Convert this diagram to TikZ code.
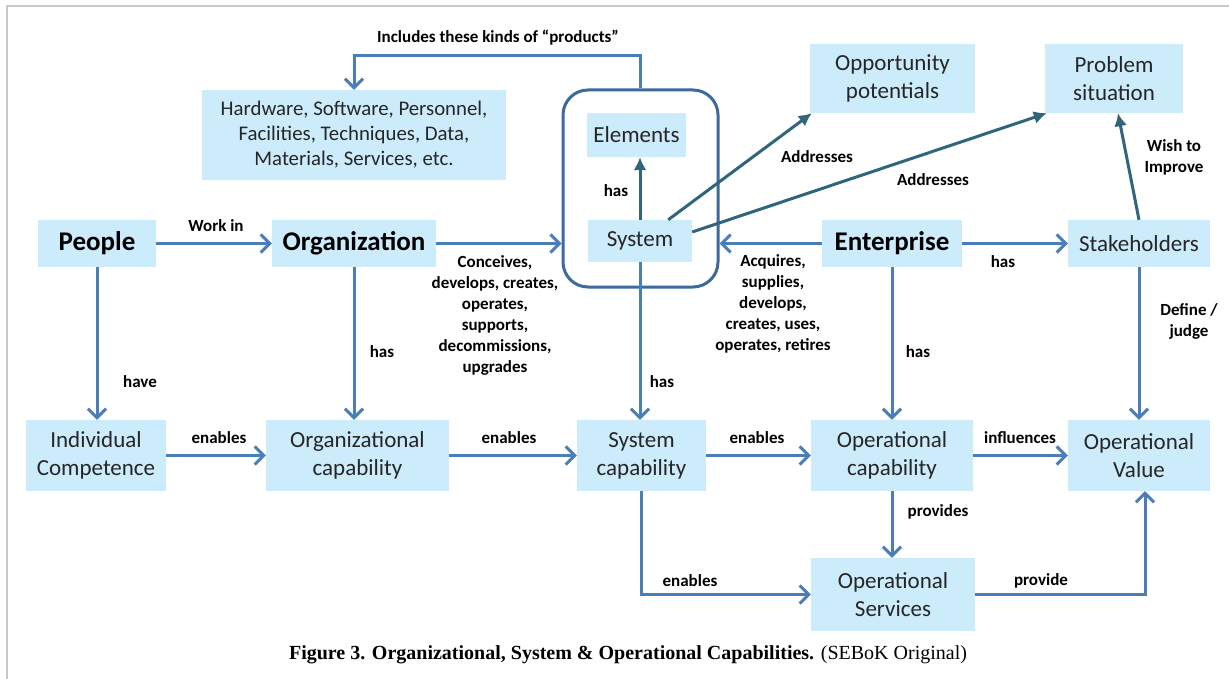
\documentclass[tikz,border=0pt]{standalone}
\usepackage{fontspec}
\setmainfont{Carlito}
\newfontfamily\capfont{Liberation Serif}
\usetikzlibrary{arrows.meta,calc}
\definecolor{boxfill}{HTML}{CCEBFB}
\definecolor{lineblue}{HTML}{4A7EBB}
\definecolor{darkteal}{HTML}{31657B}
\definecolor{framegray}{HTML}{C8C8C8}
\definecolor{boxtext}{HTML}{262626}
\definecolor{contblue}{HTML}{3C6A9E}
\tikzset{
 box/.style={fill=boxfill, text=boxtext, inner sep=0pt, align=center, font=\fontsize{23}{28}\selectfont},
 bigbox/.style={box, text=black, font=\bfseries\fontsize{27}{30}\selectfont},
 conn/.style={draw=lineblue, line width=3pt, -{Straight Barb[length=9pt,width=18pt]}},
 tconn/.style={draw=darkteal, line width=3pt, -{Latex[length=13pt,width=13pt]}},
 lab/.style={font=\bfseries\fontsize{17}{21}\selectfont, align=center, inner sep=0pt},
}
\begin{document}
\begin{tikzpicture}[x=1pt,y=-1pt]
\useasboundingbox (0,0) rectangle (1229,679);
\fill[white] (0,0) rectangle (1229,679);
\draw[framegray, line width=2pt] (7,679) -- (7,6) -- (1229,6);

% boxes
\node[box, minimum width=304pt, minimum height=90pt, font=\fontsize{20.8}{25}\selectfont] (hw) at (354,135) {Hardware, Software, Personnel,\\Facilities, Techniques, Data,\\Materials, Services, etc.};
\node[draw=contblue, line width=3pt, rounded corners=25pt, minimum width=155pt, minimum height=197pt, inner sep=0pt] (sysbox) at (640.5,188.5) {};
\node[box, minimum width=99pt, minimum height=44pt] (elem) at (636.5,135) {Elements};
\node[box, minimum width=104pt, minimum height=42pt] (sys) at (640,241) {System};
\node[box, minimum width=165pt, minimum height=69pt] (opp) at (892.5,78.5) {Opportunity\\potentials};
\node[box, minimum width=138pt, minimum height=69pt] (prob) at (1114,78.5) {Problem\\situation};
\node[bigbox, minimum width=118pt, minimum height=47pt] (people) at (97,243.5) {People};
\node[bigbox, minimum width=164pt, minimum height=47pt] (org) at (354,243.5) {Organization};
\node[bigbox, minimum width=140pt, minimum height=47pt] (ent) at (892,243.5) {Enterprise};
\node[box, minimum width=142pt, minimum height=47pt] (stake) at (1139,243.5) {Stakeholders};
\node[box, minimum width=140pt, minimum height=71pt] (indc) at (96,455.5) {Individual\\Competence};
\node[box, minimum width=183pt, minimum height=71pt] (orgcap) at (357.5,455.5) {Organizational\\capability};
\node[box, minimum width=129pt, minimum height=71pt] (syscap) at (641.5,455.5) {System\\capability};
\node[box, minimum width=162pt, minimum height=71pt] (opcap) at (892,455.5) {Operational\\capability};
\node[box, minimum width=142pt, minimum height=71pt] (opval) at (1139,455.5) {Operational\\Value};
\node[box, minimum width=164pt, minimum height=73pt] (opserv) at (893,594.5) {Operational\\Services};

% connectors
\draw[conn] (sysbox.north) -- ++(0,-33) -| (hw.north);
\draw[tconn] (sys.north) -- (sys.north |- elem.south);
\draw[tconn] ([xshift=-24pt]sys.north east) -- ([xshift=2pt]opp.south west);
\draw[tconn] ([yshift=9pt]sys.east) -- ([xshift=2pt]prob.south west);
\draw[tconn] (stake.north) -- ([xshift=4pt]prob.south);
\draw[conn] (people) -- (org);
\draw[conn] (org.east) -- (org.east -| sysbox.west);
\draw[conn] (ent.west) -- (ent.west -| sysbox.east);
\draw[conn] (ent) -- (stake);
\draw[conn] (stake.south) -- (stake.south |- opval.north);
\draw[conn] (people.south) -- (people.south |- indc.north);
\draw[conn] (org.south) -- (org.south |- orgcap.north);
\draw[conn] (sys.south) -- (sys.south |- syscap.north);
\draw[conn] (ent.south) -- (ent.south |- opcap.north);
\draw[conn] (indc) -- (orgcap);
\draw[conn] (orgcap) -- (syscap);
\draw[conn] (syscap) -- (opcap);
\draw[conn] (opcap) -- (opval);
\draw[conn] (opcap.south) -- (opcap.south |- opserv.north);
\draw[conn] (syscap.south) |- (opserv.west);
\draw[conn] (opserv.east) -| ([xshift=6pt]opval.south);

% labels
\node[lab] (l1) at (498,38) {Includes these kinds of “products”};
\node[lab] (l2) at (616,191) {has};
\node[lab] (l3) at (817,157) {Addresses};
\node[lab] (l4) at (933,180) {Addresses};
\node[lab] (l5) at (216,226) {Work in};
\node[lab] (l6) at (495,315) {Conceives,\\develops, creates,\\operates,\\supports,\\decommissions,\\upgrades};
\node[lab] (l7) at (773,304) {Acquires,\\supplies,\\develops,\\creates, uses,\\operates, retires};
\node[lab] (l8) at (1003,262) {has};
\node[lab] (l9) at (1174,157) {Wish to\\Improve};
\node[lab] (l10) at (1189,321) {Define /\\judge};
\node[lab] (l11) at (140,382) {have};
\node[lab] (l12) at (382,352) {has};
\node[lab] (l13) at (662,382) {has};
\node[lab] (l14) at (918,352) {has};
\node[lab] (l15) at (219,438) {enables};
\node[lab] (l16) at (509,438) {enables};
\node[lab] (l17) at (757,438) {enables};
\node[lab] (l18) at (1020,438) {influences};
\node[lab] (l19) at (938,512) {provides};
\node[lab] (l20) at (690,581) {enables};
\node[lab] (l21) at (1041,581) {provide};

\node[font=\capfont\fontsize{20}{24}\selectfont, inner sep=0pt] (cap) at (628,655) {\textbf{Figure 3. Organizational, System \& Operational Capabilities.} (SEBoK Original)};
\end{tikzpicture}
\end{document}
